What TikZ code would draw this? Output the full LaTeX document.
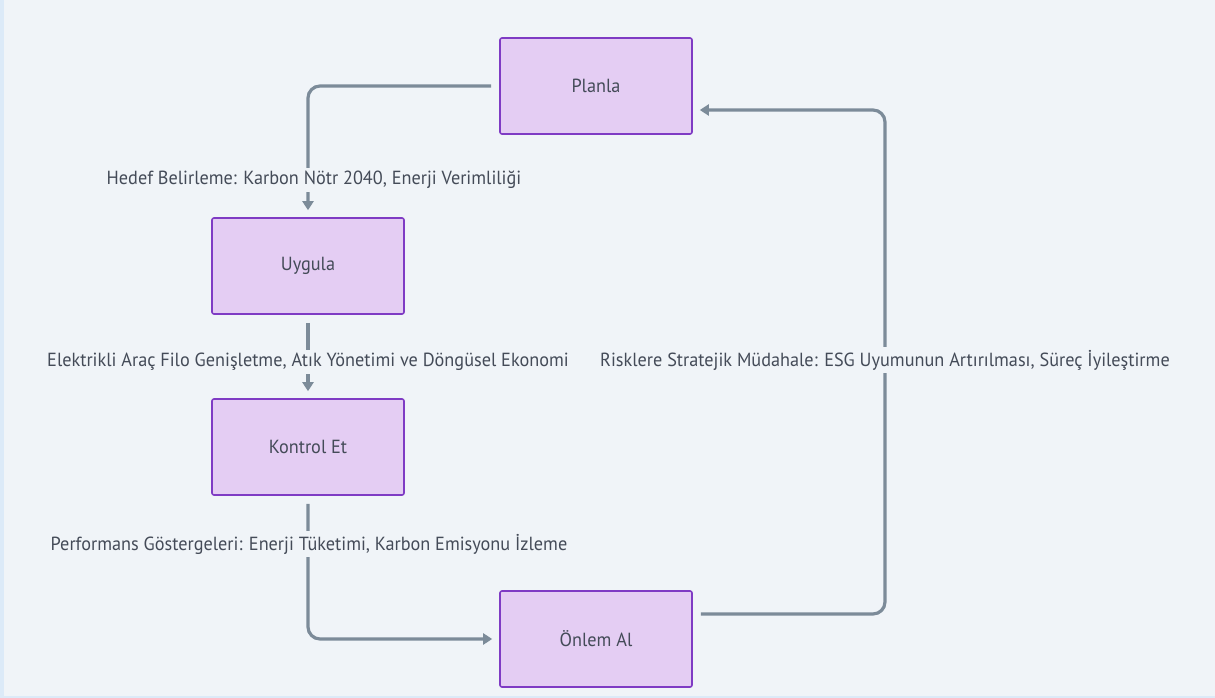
\documentclass[tikz,border=0pt]{standalone}
\usepackage{fontspec}
\setmainfont{PT Sans}[FakeStretch=0.96]
\usetikzlibrary{arrows.meta}

\definecolor{pagebg}{HTML}{F0F4F8}
\definecolor{edgeblue}{HTML}{DCEAF8}
\definecolor{boxfill}{HTML}{E4CDF3}
\definecolor{boxline}{HTML}{7F3BC4}
\definecolor{flowgray}{HTML}{7C8B99}
\definecolor{textgray}{HTML}{444B58}

\begin{document}
\begin{tikzpicture}[x=1pt,y=-1pt,
    phase/.style={draw=boxline,fill=boxfill,line width=1.6pt,rounded corners=2pt,
        minimum width=192pt,minimum height=96pt,text=textgray,font=\fontsize{19}{22}\selectfont},
    flow/.style={draw=flowgray,line width=3.2pt,rounded corners=12pt,
        -{Triangle[length=9pt,width=11pt]},shorten <=8pt,shorten >=7pt},
    flowlabel/.style={fill=pagebg,inner xsep=2pt,inner ysep=3pt,text=textgray,
        font=\fontsize{19}{22}\selectfont}]
    \useasboundingbox (0,0) rectangle (1215,698);
    \fill[pagebg] (0,0) rectangle (1215,698);
    \fill[edgeblue] (0,0) rectangle (4,698);
    \fill[edgeblue] (0,696) rectangle (1215,698);

    % Phases
    \node[phase] (planla) at (596,86) {Planla};
    \node[phase] (uygula) at (308,266) {Uygula};
    \node[phase] (kontrol) at (308,447) {Kontrol Et};
    \node[phase] (onlem) at (596,639) {Önlem Al};

    % Connectors
    \draw[flow] (planla.west) -| (uygula.north);
    \draw[flow] (uygula) -- (kontrol);
    \draw[flow] (kontrol.south) |- (onlem.west);
    \coordinate (loopright) at (885,360);
    \draw[flow] ([yshift=25pt]onlem.east) -| (loopright) |- ([yshift=-24pt]planla.east);

    % Labels
    \node[flowlabel] (hedef) at (314,180) {Hedef Belirleme: Karbon Nötr 2040, Enerji Verimliliği};
    \node[flowlabel] (arac) at (308,362) {Elektrikli Araç Filo Genişletme, Atık Yönetimi ve Döngüsel Ekonomi};
    \node[flowlabel] (gosterge) at (309,544) {Performans Göstergeleri: Enerji Tüketimi, Karbon Emisyonu İzleme};
    \node[flowlabel] (risk) at (loopright) {Risklere Stratejik Müdahale: ESG Uyumunun Artırılması, Süreç İyileştirme};
\end{tikzpicture}
\end{document}
